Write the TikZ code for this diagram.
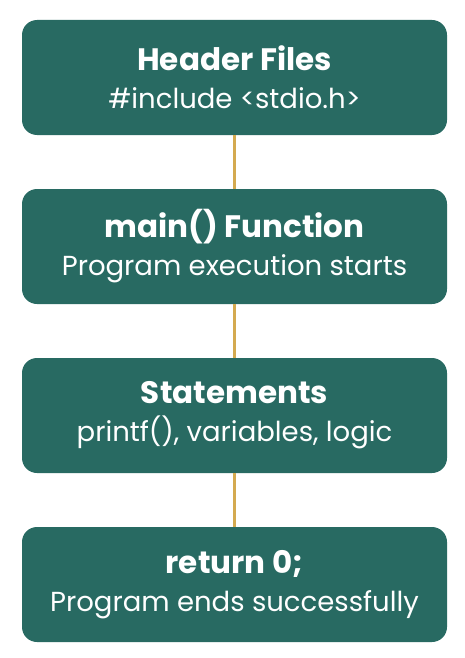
\documentclass[tikz,border=0pt]{standalone}
\usepackage{fontspec}
\setmainfont{Poppins}
\usetikzlibrary{positioning}
\definecolor{boxteal}{RGB}{40,106,98}
\definecolor{linkgold}{RGB}{212,170,80}

\begin{document}
\begin{tikzpicture}[x=1pt,y=-1pt,
    stage/.style={fill=boxteal,rounded corners=15pt,minimum width=425pt,minimum height=115pt,
        inner sep=0pt,text=white,align=center,node font=\fontsize{27.5}{38}\selectfont},
    link/.style={draw=linkgold,line width=3pt}]
    \useasboundingbox (0,0) rectangle (464,658);
    \node[stage] (hdr) at (234.5,77.5) {{\fontsize{31}{38}\selectfont\bfseries Header Files}\\\#include <stdio.h>};
    \node[stage] (mainfn) at (234.5,246.5) {{\fontsize{31}{38}\selectfont\bfseries main() Function}\\Program execution starts};
    \node[stage] (stmts) at (234.5,415.5) {{\fontsize{31}{38}\selectfont\bfseries Statements}\\printf(), variables, logic};
    \node[stage] (ret) at (234.5,584.5) {{\fontsize{31}{38}\selectfont\bfseries return 0;}\\Program ends successfully};
    \draw[link] (hdr) -- (mainfn);
    \draw[link] (mainfn) -- (stmts);
    \draw[link] (stmts) -- (ret);
\end{tikzpicture}
\end{document}
